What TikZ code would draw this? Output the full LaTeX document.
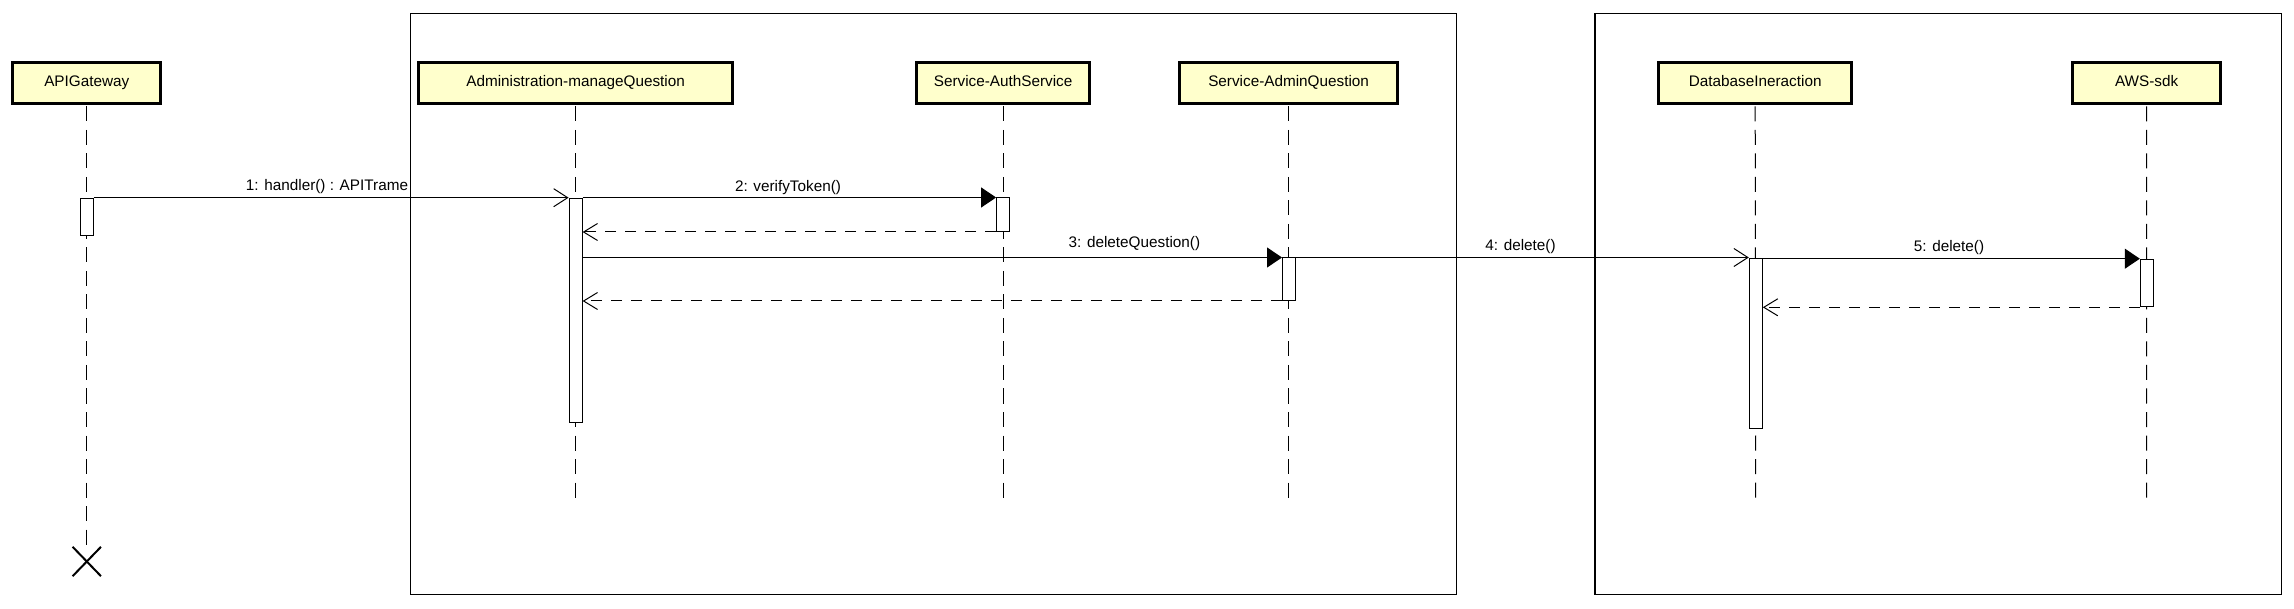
\documentclass[tikz,border=0pt]{standalone}
\usepackage{fontspec}
\setmainfont{Liberation Sans}
\usetikzlibrary{arrows.meta}
\definecolor{partfill}{RGB}{255,255,204}
\tikzset{
  participant/.style={draw=black, line width=3pt, fill=partfill, minimum height=41pt, inner sep=0pt, font=\fontsize{15.3}{18}\selectfont, text depth=4pt, text height=11pt},
  actbox/.style={draw=black, line width=1pt, fill=white, minimum width=13pt, inner sep=0pt, anchor=north},
  lifeline/.style={draw=black, line width=1pt, dash pattern=on 15pt off 8.5pt},
  frameline/.style={draw=black, line width=1.3pt},
  callmsg/.style={draw=black, line width=1pt, -{Triangle[length=15pt,width=20pt]}},
  asyncmsg/.style={draw=black, line width=1pt, -{Straight Barb[length=14pt,width=18pt,line width=1pt]}},
  retmsg/.style={draw=black, line width=1pt, dash pattern=on 11pt off 9pt, -{Straight Barb[length=14pt,width=17pt,line width=1pt]}},
  msglabel/.style={anchor=south, inner sep=0pt, font=\fontsize{15.3}{18}\selectfont},
  destroy/.style={draw=black, line width=2pt}
}
\begin{document}
\begin{tikzpicture}[x=1pt,y=-1pt]
\useasboundingbox (0,0) rectangle (2294,609);
% frames
\draw[frameline] (410.5,13.3) rectangle (1456.5,594.7);
\draw[frameline] (1595,13.3) rectangle (2281.7,594.7);

% participants
\node[participant, minimum width=148pt] (gw) at (86.8,83) {APIGateway};
\node[participant, minimum width=314.6pt] (adm) at (575.6,83) {Administration-manageQuestion};
\node[participant, minimum width=173pt] (auth) at (1003.1,83) {Service-AuthService};
\node[participant, minimum width=218.6pt] (aq) at (1288.6,83) {Service-AdminQuestion};
\node[participant, minimum width=193pt] (db) at (1755.2,83) {DatabaseIneraction};
\node[participant, minimum width=148.5pt] (aws) at (2146.6,83) {AWS-sdk};

% lifeline ends
\coordinate (gwEnd) at (86.8,549);
\coordinate (admEnd) at (575.6,503);
\coordinate (authEnd) at (1003.1,503);
\coordinate (aqEnd) at (1288.6,503);
\coordinate (dbEnd) at (1755.6,503);
\coordinate (awsEnd) at (2146.7,503);

\draw[lifeline] ([yshift=-1.5pt]gw.south) -- (gwEnd);
\draw[lifeline] ([yshift=-1.5pt]adm.south) -- (admEnd);
\draw[lifeline] ([yshift=-1.5pt]auth.south) -- (authEnd);
\draw[lifeline] ([yshift=-1.5pt]aq.south) -- (aqEnd);
\draw[lifeline] ([yshift=-1.5pt]db.south) -- (dbEnd);
\draw[lifeline] ([yshift=-1.5pt]aws.south) -- (awsEnd);

% destruction
\node[inner sep=0pt, minimum width=28pt, minimum height=29pt] (gwX) at (86.8,561.5) {};
\draw[destroy] (gwX.north west) -- (gwX.south east);
\draw[destroy] (gwX.north east) -- (gwX.south west);

% activations
\node[actbox, minimum height=37.3pt] (gwA) at (86.8,197.7) {};
\node[actbox, minimum height=224.3pt] (admA) at (575.6,197.7) {};
\node[actbox, minimum height=33.5pt] (authA) at (1003.1,197.5) {};
\node[actbox, minimum height=42.5pt] (aqA) at (1289,257.5) {};
\node[actbox, minimum height=170.3pt] (dbA) at (1755.8,257.7) {};
\node[actbox, minimum height=47.6pt] (awsA) at (2146.8,258.7) {};

% messages
\draw[asyncmsg] (gwA.north east) -- (admA.north west);
\node[msglabel] (l1) at (327,194.3) {1: handler() : APITrame};

\draw[callmsg] (admA.east |- authA.north) -- (authA.north west);
\node[msglabel] (l2) at (788,195) {2: verifyToken()};

\draw[retmsg] (authA.south west) -- (admA.east |- authA.south);

\draw[callmsg] (admA.east |- aqA.north) -- (aqA.north west);
\node[msglabel] (l3) at (1134.4,250.7) {3: deleteQuestion()};

\draw[retmsg] (aqA.south west) -- (admA.east |- aqA.south);

\draw[asyncmsg] (aqA.north east) -- (dbA.west |- aqA.north);
\node[msglabel] (l4) at (1520.5,254) {4: delete()};

\draw[callmsg] (dbA.east |- awsA.north) -- (awsA.north west);
\node[msglabel] (l5) at (1949,255) {5: delete()};

\draw[retmsg] (awsA.south west) -- (dbA.east |- awsA.south);
\end{tikzpicture}
\end{document}
